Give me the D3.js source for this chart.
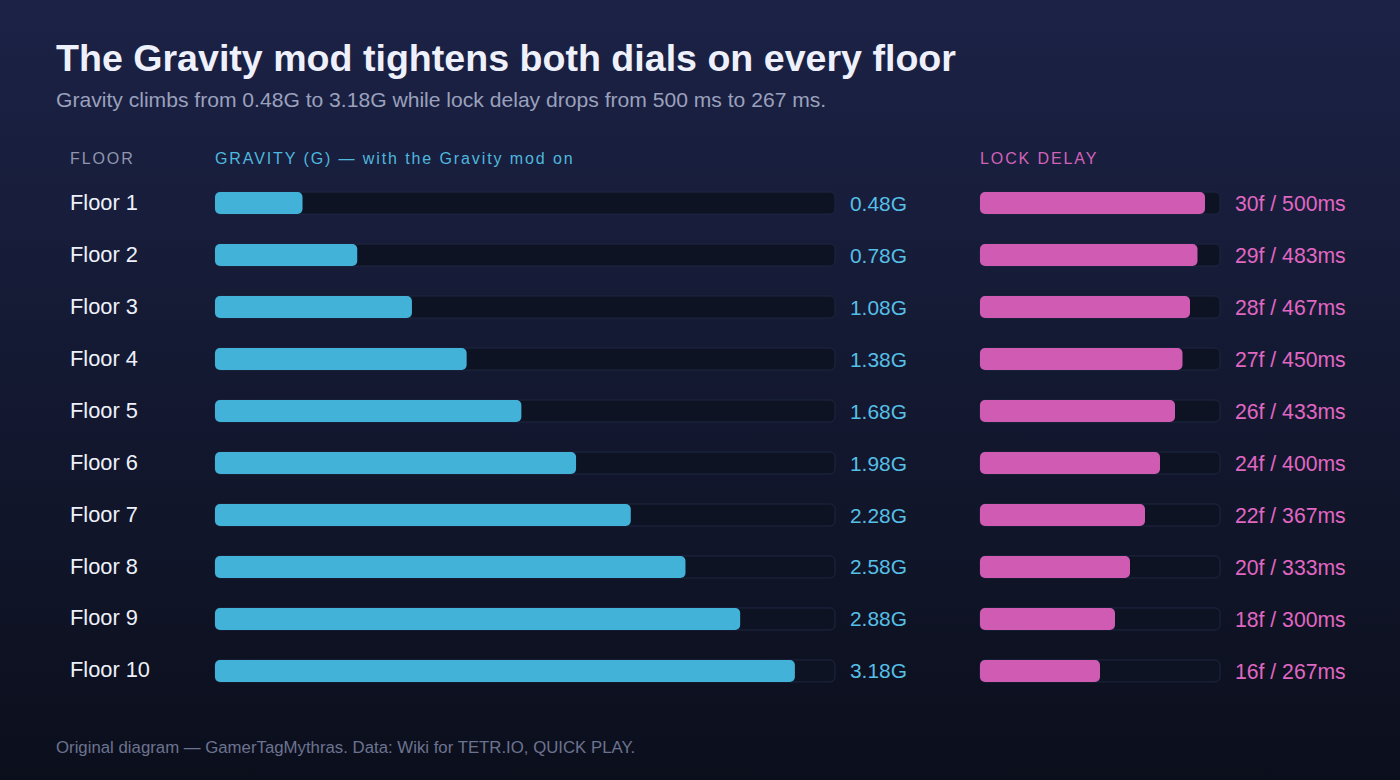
<!DOCTYPE html>
<html>
<head>
<meta charset="utf-8">
<script src="https://cdn.jsdelivr.net/npm/d3@7"></script>
<style>
  html, body { margin: 0; padding: 0; background: #141a33; }
  svg { display: block; font-family: "Liberation Sans", Arial, sans-serif; }
</style>
</head>
<body>
<div id="container"></div>
<script>
// DATA
const floors = ["Floor 1", "Floor 2", "Floor 3", "Floor 4", "Floor 5",
                "Floor 6", "Floor 7", "Floor 8", "Floor 9", "Floor 10"];
const gravity = [0.48, 0.78, 1.08, 1.38, 1.68, 1.98, 2.28, 2.58, 2.88, 3.18];
const lockFrames = [30, 29, 28, 27, 26, 24, 22, 20, 18, 16];
const lockMs = [500, 483, 467, 450, 433, 400, 367, 333, 300, 267];

const width = 1400;
const height = 780;

const svg = d3.select("#container").append("svg")
    .attr("width", width)
    .attr("height", height);

// background gradient
const defs = svg.append("defs");
const grad = defs.append("linearGradient")
    .attr("id", "bg")
    .attr("x1", 0).attr("y1", 0).attr("x2", 0).attr("y2", 1);
grad.append("stop").attr("offset", "0%").attr("stop-color", "#1c2246");
grad.append("stop").attr("offset", "100%").attr("stop-color", "#0b0f1c");

svg.append("rect")
    .attr("width", width)
    .attr("height", height)
    .attr("fill", "url(#bg)");

// TITLES
svg.append("text")
    .attr("x", 56).attr("y", 71)
    .attr("fill", "#eef1fb")
    .attr("font-size", 37.6)
    .attr("font-weight", "bold")
    .text("The Gravity mod tightens both dials on every floor");

svg.append("text")
    .attr("x", 56).attr("y", 107)
    .attr("fill", "#9aa1bd")
    .attr("font-size", 21.1)
    .text("Gravity climbs from 0.48G to 3.18G while lock delay drops from 500 ms to 267 ms.");

// SCALES
const yScale = d3.scaleBand()
    .domain(floors)
    .range([177, 697])
    .paddingInner(0.577)
    .paddingOuter(0.29);

const gScale = d3.scaleLinear().domain([0, 3.4]).range([215, 835]);
const lScale = d3.scaleLinear().domain([0, 32]).range([980, 1220]);

// HEADERS
const headers = [
  {x: 70, text: "FLOOR", color: "#8f96ad"},
  {x: 215, text: "GRAVITY (G) — with the Gravity mod on", color: "#4fb8de"},
  {x: 980, text: "LOCK DELAY", color: "#d262b8"}
];
svg.append("g")
  .selectAll("text")
  .data(headers)
  .enter().append("text")
    .attr("x", d => d.x)
    .attr("y", 164)
    .attr("fill", d => d.color)
    .attr("font-size", 16)
    .attr("letter-spacing", 1.9)
    .text(d => d.text);

// ROWS
const rows = svg.append("g")
  .selectAll("g.row")
  .data(floors)
  .enter().append("g")
    .attr("class", "row");

const bh = yScale.bandwidth();

rows.append("text")
    .attr("x", 70)
    .attr("y", d => yScale(d) + bh / 2)
    .attr("dy", "0.3em")
    .attr("fill", "#eef1fb")
    .attr("font-size", 21.8)
    .text(d => d);

// gravity tracks
rows.append("rect")
    .attr("x", gScale(0))
    .attr("y", d => yScale(d))
    .attr("width", gScale(3.4) - gScale(0))
    .attr("height", bh)
    .attr("rx", 5)
    .attr("fill", "#0e1324")
    .attr("stroke", "#1f2740")
    .attr("stroke-width", 1);

rows.append("rect")
    .attr("x", gScale(0))
    .attr("y", d => yScale(d))
    .attr("width", (d, i) => gScale(gravity[i]) - gScale(0))
    .attr("height", bh)
    .attr("rx", 5)
    .attr("fill", "#42b2d8");

rows.append("text")
    .attr("x", 850)
    .attr("y", d => yScale(d) + bh / 2)
    .attr("dy", "0.36em")
    .attr("fill", "#56bfe6")
    .attr("font-size", 20.9)
    .text((d, i) => gravity[i].toFixed(2) + "G");

// lock delay tracks
rows.append("rect")
    .attr("x", lScale(0))
    .attr("y", d => yScale(d))
    .attr("width", lScale(32) - lScale(0))
    .attr("height", bh)
    .attr("rx", 5)
    .attr("fill", "#0e1324")
    .attr("stroke", "#1f2740")
    .attr("stroke-width", 1);

rows.append("rect")
    .attr("x", lScale(0))
    .attr("y", d => yScale(d))
    .attr("width", (d, i) => lScale(lockFrames[i]) - lScale(0))
    .attr("height", bh)
    .attr("rx", 5)
    .attr("fill", "#cf5bb3");

rows.append("text")
    .attr("x", 1235)
    .attr("y", d => yScale(d) + bh / 2)
    .attr("dy", "0.36em")
    .attr("fill", "#e067c2")
    .attr("font-size", 21.2)
    .text((d, i) => lockFrames[i] + "f / " + lockMs[i] + "ms");

// FOOTER
svg.append("text")
    .attr("x", 56).attr("y", 753)
    .attr("fill", "#6c7390")
    .attr("font-size", 16.8)
    .text("Original diagram — GamerTagMythras. Data: Wiki for TETR.IO, QUICK PLAY.");
</script>
</body>
</html>
